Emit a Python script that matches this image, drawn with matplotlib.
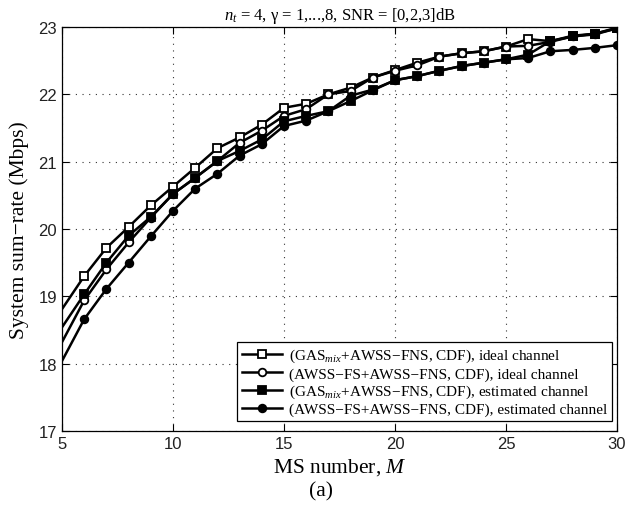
import matplotlib
matplotlib.use("Agg")
import matplotlib.pyplot as plt

M = list(range(5, 31))
gas_ideal = [18.81, 19.30, 19.72, 20.03, 20.35, 20.63, 20.91, 21.20, 21.36, 21.55, 21.80,
             21.86, 22.00, 22.10, 22.25, 22.36, 22.47, 22.56, 22.61, 22.64, 22.71,
             22.82, 22.79, 22.87, 22.90, 22.99]
awss_ideal = [18.32, 18.94, 19.40, 19.80, 20.17, 20.52, 20.76, 21.01, 21.28, 21.46, 21.68,
              21.78, 22.00, 22.05, 22.25, 22.35, 22.43, 22.56, 22.61, 22.64, 22.71,
              22.72, 22.78, 22.86, 22.90, 22.98]
gas_est = [18.54, 19.03, 19.50, 19.90, 20.18, 20.52, 20.76, 21.01, 21.16, 21.33, 21.60,
           21.68, 21.75, 21.90, 22.06, 22.21, 22.27, 22.35, 22.42, 22.47, 22.52,
           22.59, 22.79, 22.86, 22.89, 22.98]
awss_est = [18.04, 18.66, 19.11, 19.50, 19.89, 20.27, 20.60, 20.82, 21.09, 21.26, 21.53,
            21.61, 21.75, 21.98, 22.07, 22.21, 22.27, 22.35, 22.42, 22.47, 22.52,
            22.54, 22.64, 22.66, 22.69, 22.73]

labels = [
    "(GAS$_{mix}$+AWSS\u2212FNS, CDF), ideal channel",
    "(AWSS\u2212FS+AWSS\u2212FNS, CDF), ideal channel",
    "(GAS$_{mix}$+AWSS\u2212FNS, CDF), estimated channel",
    "(AWSS\u2212FS+AWSS\u2212FNS, CDF), estimated channel",
]
xticks = [5, 10, 15, 20, 25, 30]
yticks = [17, 18, 19, 20, 21, 22, 23]

plt.rcParams['mathtext.fontset'] = 'custom'
plt.rcParams['mathtext.rm'] = 'Liberation Serif'
plt.rcParams['mathtext.it'] = 'Liberation Serif:italic'
plt.rcParams['mathtext.bf'] = 'Liberation Serif:bold'

fig = plt.figure(figsize=(6.42, 5.06), dpi=100)
ax = fig.add_axes([62/642, 1-432/506, 555/642, 404/506])

series = [gas_ideal, awss_ideal, gas_est, awss_est]
markers = ['s', 'o', 's', 'o']
faces = ['white', 'white', 'black', 'black']
for y, mk, fc, lab in zip(series, markers, faces, labels):
    ax.plot(M, y, color='black', lw=1.8, marker=mk, markersize=5.5,
            markerfacecolor=fc, markeredgecolor='black', markeredgewidth=1.3,
            markevery=list(range(1, len(M))), label=lab)

ax.set_xlim(5, 30)
ax.set_ylim(17, 23)
ax.set_xticks(xticks)
ax.set_yticks(yticks)
ax.tick_params(direction='in', top=True, right=True, labelsize=12, length=5,
               labelcolor='#222222')
for lbl in ax.get_xticklabels() + ax.get_yticklabels():
    lbl.set_fontfamily('Liberation Sans')
ax.grid(True, linestyle=(0, (1, 5)), color='#333333', linewidth=0.8)
for s in ax.spines.values():
    s.set_linewidth(0.9)

ax.set_xlabel("MS number, $M$", fontsize=15.5, family='Liberation Serif', labelpad=4)
ax.set_ylabel("System sum\u2212rate (Mbps)", fontsize=15.5, family='Liberation Serif', labelpad=7)
ax.set_title("$n_t$ = 4, \u03b3 = 1,...,8, SNR = [0,2,3]dB", fontsize=12,
             family='Liberation Serif', pad=6)
fig.text(0.5, 1-492/506, "(a)", ha='center', va='center', fontsize=15.5,
         family='Liberation Serif')

leg = ax.legend(loc='lower right', bbox_to_anchor=(0.991, 0.025), borderaxespad=0,
                prop={'family': 'Liberation Serif', 'size': 11}, fancybox=False,
                edgecolor='black', framealpha=1, handlelength=2.6,
                borderpad=0.3, labelspacing=0.15, handletextpad=0.5)
leg.get_frame().set_linewidth(0.9)

fig.savefig("out.png", dpi=100)
